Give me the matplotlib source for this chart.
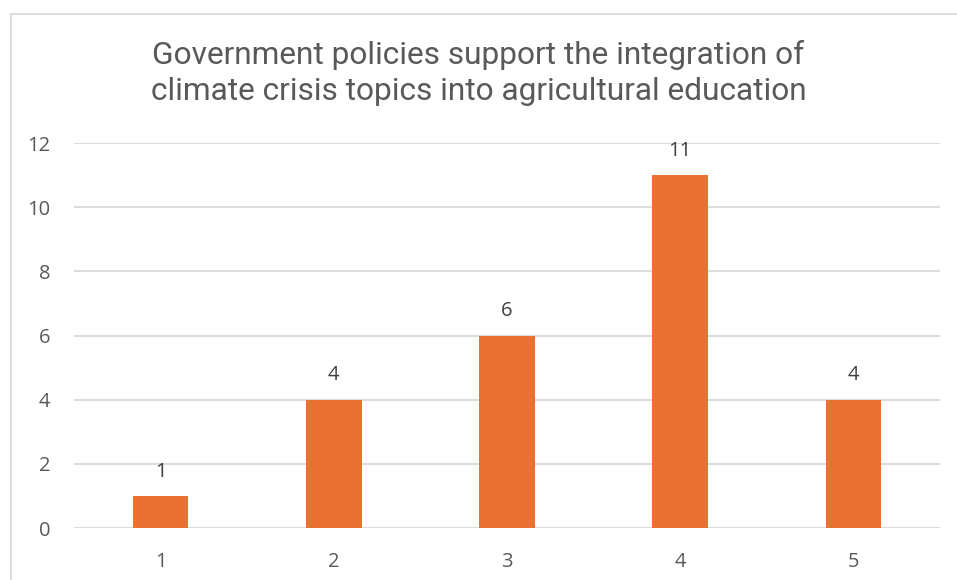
import matplotlib.pyplot as plt
from matplotlib.lines import Line2D

# survey responses per rating level
ratings = [1, 2, 3, 4, 5]
counts = [1, 4, 6, 11, 4]
y_ticks = [0, 2, 4, 6, 8, 10, 12]
title = "Government policies support the integration of\nclimate crisis topics into agricultural education"

bar_color = '#E97132'
grid_color = '#D9D9D9'
text_color = '#595959'

fig = plt.figure(figsize=(9.57, 5.8), dpi=100)
ax = fig.add_axes([74 / 957, 1 - 528 / 580, (940 - 74) / 957, (528 - 143) / 580])

ax.bar(ratings, counts, width=0.32, color=bar_color, zorder=3)
for x, v in zip(ratings, counts):
    ax.annotate(str(v), (x, v), xytext=(0, 17.5), textcoords='offset points',
                ha='center', va='center', fontsize=14.5, color='#404040',
                family='Open Sans')

ax.set_xlim(0.5, 5.5)
ax.set_ylim(0, 12)
ax.set_xticks(ratings)
ax.set_yticks(y_ticks)
ax.yaxis.grid(True, color=grid_color, linewidth=1.3, zorder=0)
ax.tick_params(length=0, labelsize=14.5, labelcolor=text_color)
ax.tick_params(axis='y', pad=17)
ax.tick_params(axis='x', pad=17)
for lab in ax.get_xticklabels() + ax.get_yticklabels():
    lab.set_family('Open Sans')
for s in ax.spines.values():
    s.set_visible(False)

fig.text(0.5, 1 - 73 / 580, title, ha='center', va='center', fontsize=22.8,
         color=text_color, family='Roboto', linespacing=1.3)

# chart area border (left and top edges)
fig.add_artist(Line2D([10.5 / 957, 10.5 / 957], [0, 1 - 13.5 / 580], color=grid_color, linewidth=1.3))
fig.add_artist(Line2D([10.5 / 957, 1], [1 - 13.5 / 580, 1 - 13.5 / 580], color=grid_color, linewidth=1.3))

fig.savefig('out.png', dpi=100, facecolor='white')
